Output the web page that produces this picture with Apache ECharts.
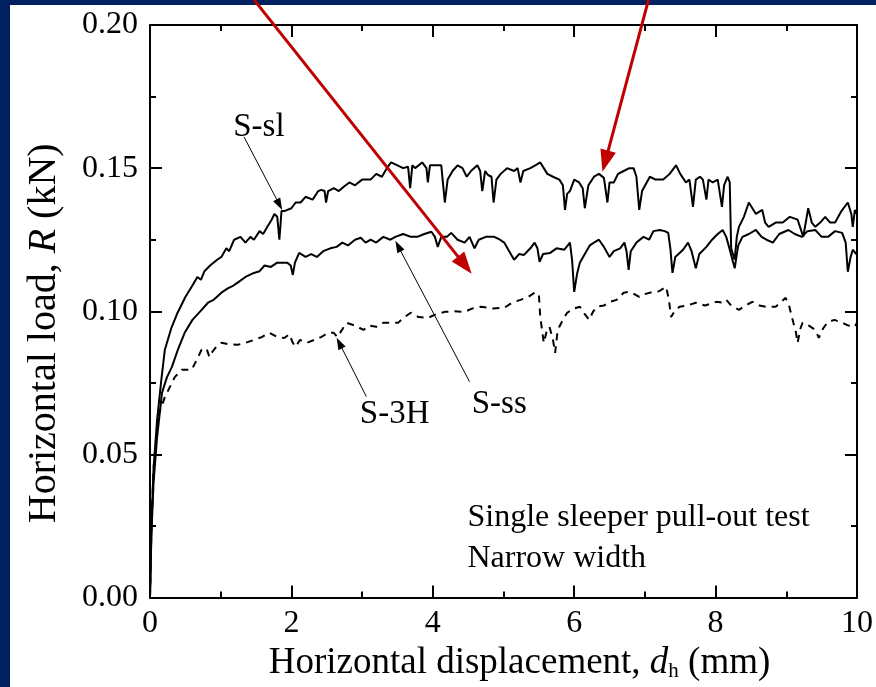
<!DOCTYPE html>
<html><head><meta charset="utf-8">
<script src="https://cdn.jsdelivr.net/npm/echarts@6/dist/echarts.min.js"></script>
<style>html,body{margin:0;padding:0;background:#002060;}#c{width:876px;height:687px;}</style>
</head><body><div id="c"></div>
<script>
// ---- data (x: horizontal displacement mm, y: horizontal load kN) ----
const xTicks = [0, 2, 4, 6, 8, 10];
const yTicks = [0.00, 0.05, 0.10, 0.15, 0.20];

const sSl = [[0,0],[0.02,0.025],[0.05,0.045],[0.1,0.062],[0.16,0.076],[0.21,0.0866],[0.3,0.094],[0.39,0.0995],[0.5,0.105],[0.6,0.109],[0.67,0.112],[0.72,0.111],[0.77,0.114],[0.85,0.116],[0.95,0.118],[1.01,0.119],[1.08,0.122],[1.12,0.121],[1.19,0.125],[1.28,0.126],[1.35,0.124],[1.42,0.126],[1.47,0.125],[1.55,0.128],[1.6,0.127],[1.66,0.1295],[1.72,0.132],[1.76,0.134],[1.8,0.133],[1.83,0.125],[1.86,0.135],[1.9,0.135],[2.0,0.136],[2.06,0.138],[2.13,0.138],[2.2,0.140],[2.3,0.139],[2.38,0.142],[2.42,0.1424],[2.47,0.142],[2.49,0.138],[2.52,0.142],[2.6,0.143],[2.67,0.142],[2.74,0.1435],[2.82,0.145],[2.9,0.144],[3.0,0.146],[3.12,0.146],[3.2,0.148],[3.28,0.147],[3.35,0.150],[3.41,0.152],[3.5,0.151],[3.58,0.150],[3.65,0.1505],[3.68,0.143],[3.71,0.151],[3.75,0.150],[3.85,0.152],[3.91,0.150],[3.93,0.145],[3.96,0.151],[4.05,0.151],[4.12,0.151],[4.17,0.138],[4.21,0.146],[4.28,0.149],[4.35,0.151],[4.42,0.150],[4.48,0.147],[4.54,0.149],[4.63,0.151],[4.67,0.149],[4.7,0.142],[4.74,0.149],[4.78,0.1476],[4.83,0.147],[4.86,0.138],[4.9,0.146],[4.96,0.148],[5.05,0.150],[5.15,0.149],[5.2,0.150],[5.24,0.145],[5.28,0.149],[5.38,0.150],[5.45,0.151],[5.52,0.152],[5.57,0.150],[5.62,0.148],[5.7,0.147],[5.79,0.146],[5.84,0.144],[5.87,0.1354],[5.9,0.141],[5.94,0.142],[6.0,0.146],[6.07,0.145],[6.12,0.143],[6.15,0.136],[6.2,0.144],[6.28,0.147],[6.35,0.148],[6.42,0.1466],[6.47,0.138],[6.5,0.145],[6.56,0.145],[6.62,0.148],[6.7,0.149],[6.78,0.150],[6.84,0.150],[6.88,0.147],[6.92,0.1354],[6.96,0.142],[7.07,0.147],[7.15,0.146],[7.26,0.146],[7.35,0.148],[7.44,0.151],[7.5,0.148],[7.58,0.145],[7.63,0.146],[7.68,0.1365],[7.72,0.146],[7.78,0.147],[7.82,0.146],[7.87,0.139],[7.9,0.146],[7.96,0.145],[8.03,0.146],[8.09,0.1365],[8.12,0.144],[8.17,0.147],[8.2,0.145],[8.22,0.122],[8.27,0.118],[8.3,0.126],[8.33,0.1295],[8.4,0.133],[8.47,0.138],[8.52,0.136],[8.57,0.134],[8.66,0.1354],[8.7,0.131],[8.75,0.1295],[8.85,0.131],[8.95,0.131],[9.05,0.133],[9.16,0.132],[9.2,0.129],[9.24,0.126],[9.31,0.136],[9.36,0.131],[9.41,0.1295],[9.48,0.131],[9.55,0.133],[9.62,0.131],[9.69,0.131],[9.78,0.135],[9.87,0.138],[9.92,0.134],[9.94,0.1295],[9.97,0.1354],[10,0.134]];

const sSs = [[0,0],[0.02,0.022],[0.05,0.04],[0.1,0.056],[0.17,0.0716],[0.24,0.077],[0.31,0.0806],[0.4,0.087],[0.49,0.0925],[0.6,0.097],[0.73,0.1005],[0.82,0.103],[0.9,0.104],[1.01,0.1065],[1.1,0.108],[1.18,0.109],[1.24,0.110],[1.35,0.112],[1.47,0.1134],[1.55,0.114],[1.62,0.116],[1.71,0.1155],[1.8,0.117],[1.94,0.117],[1.99,0.116],[2.02,0.1127],[2.05,0.117],[2.11,0.1204],[2.2,0.119],[2.28,0.120],[2.36,0.119],[2.45,0.121],[2.55,0.122],[2.64,0.1225],[2.72,0.124],[2.8,0.123],[2.9,0.125],[2.98,0.1257],[3.05,0.124],[3.12,0.125],[3.2,0.124],[3.3,0.126],[3.4,0.125],[3.47,0.126],[3.58,0.127],[3.69,0.126],[3.78,0.126],[3.88,0.127],[3.98,0.1278],[4.03,0.126],[4.07,0.1225],[4.12,0.126],[4.2,0.126],[4.26,0.1274],[4.35,0.125],[4.45,0.124],[4.52,0.126],[4.59,0.122],[4.65,0.125],[4.75,0.126],[4.87,0.126],[4.95,0.125],[5.01,0.124],[5.08,0.121],[5.15,0.118],[5.22,0.120],[5.29,0.1197],[5.38,0.122],[5.44,0.124],[5.48,0.122],[5.51,0.1173],[5.56,0.120],[5.66,0.1204],[5.75,0.122],[5.86,0.1215],[5.94,0.124],[5.97,0.118],[6.0,0.1068],[6.04,0.113],[6.08,0.117],[6.15,0.120],[6.22,0.123],[6.28,0.124],[6.35,0.125],[6.42,0.1225],[6.5,0.119],[6.56,0.121],[6.65,0.122],[6.71,0.124],[6.74,0.121],[6.77,0.1145],[6.8,0.121],[6.88,0.124],[6.98,0.126],[7.06,0.125],[7.12,0.128],[7.21,0.1284],[7.28,0.128],[7.33,0.1274],[7.36,0.122],[7.39,0.1134],[7.43,0.119],[7.54,0.1215],[7.61,0.124],[7.66,0.121],[7.72,0.115],[7.77,0.120],[7.87,0.1225],[7.95,0.125],[8.03,0.127],[8.1,0.1284],[8.15,0.126],[8.19,0.1225],[8.27,0.115],[8.32,0.123],[8.38,0.126],[8.47,0.127],[8.57,0.1284],[8.65,0.126],[8.72,0.125],[8.81,0.124],[8.9,0.127],[9.03,0.1284],[9.12,0.127],[9.22,0.126],[9.3,0.128],[9.41,0.1284],[9.5,0.126],[9.59,0.126],[9.69,0.128],[9.79,0.1274],[9.84,0.124],[9.87,0.1138],[9.91,0.119],[9.94,0.1215],[10,0.1197]];

const s3H = [[0,0],[0.02,0.025],[0.05,0.045],[0.11,0.063],[0.21,0.070],[0.35,0.077],[0.45,0.0796],[0.59,0.0796],[0.66,0.083],[0.73,0.0866],[0.8,0.087],[0.84,0.084],[0.87,0.0855],[0.95,0.088],[1.01,0.089],[1.12,0.0885],[1.24,0.0883],[1.35,0.089],[1.47,0.090],[1.58,0.091],[1.69,0.0925],[1.8,0.091],[1.9,0.0907],[1.97,0.092],[2.02,0.089],[2.06,0.0876],[2.12,0.090],[2.22,0.089],[2.32,0.090],[2.42,0.091],[2.52,0.0925],[2.6,0.0925],[2.65,0.091],[2.78,0.096],[2.9,0.095],[3.02,0.0935],[3.1,0.095],[3.2,0.0946],[3.3,0.096],[3.4,0.096],[3.51,0.096],[3.6,0.098],[3.69,0.0995],[3.8,0.098],[3.93,0.0977],[4.05,0.099],[4.17,0.0998],[4.3,0.100],[4.45,0.0998],[4.56,0.101],[4.68,0.1016],[4.85,0.101],[5.01,0.1012],[5.12,0.103],[5.24,0.104],[5.35,0.105],[5.44,0.1065],[5.5,0.106],[5.52,0.098],[5.57,0.089],[5.61,0.093],[5.65,0.0946],[5.7,0.090],[5.73,0.0855],[5.76,0.092],[5.79,0.0946],[5.84,0.097],[5.9,0.0995],[6.0,0.101],[6.08,0.1016],[6.15,0.099],[6.21,0.097],[6.27,0.100],[6.32,0.1016],[6.42,0.102],[6.5,0.1033],[6.6,0.104],[6.7,0.1065],[6.78,0.1068],[6.85,0.106],[6.92,0.105],[7.0,0.106],[7.12,0.1068],[7.2,0.107],[7.3,0.1086],[7.34,0.104],[7.37,0.098],[7.42,0.100],[7.49,0.1016],[7.6,0.102],[7.72,0.103],[7.85,0.102],[8.01,0.1033],[8.1,0.103],[8.15,0.104],[8.22,0.102],[8.33,0.1005],[8.42,0.102],[8.52,0.1033],[8.62,0.102],[8.71,0.1016],[8.85,0.1016],[8.99,0.1047],[9.04,0.102],[9.06,0.0998],[9.1,0.096],[9.13,0.0935],[9.16,0.089],[9.2,0.094],[9.23,0.096],[9.32,0.095],[9.41,0.0935],[9.46,0.0907],[9.52,0.094],[9.59,0.0963],[9.68,0.097],[9.79,0.096],[9.88,0.095],[9.97,0.0946],[10,0.096]];

// annotations in data coordinates
const seriesLabels = [
  {text: 'S-sl', at: [1.54, 0.1644], from: [1.33, 0.1609], to: [1.87, 0.1354]},
  {text: 'S-ss', at: [4.94, 0.0674], from: [4.52, 0.0754], to: [3.47, 0.1246]},
  {text: 'S-3H', at: [3.46, 0.0639], from: [3.06, 0.0702], to: [2.64, 0.0908]}
];
const redArrows = [
  {from: [1.475, 0.2087], to: [4.55, 0.1131]},
  {from: [7.05, 0.2087], to: [6.40, 0.1487]}
];
const noteLines = ['Single sleeper pull-out test', 'Narrow width'];
const notePos = [[4.49, 0.0281], [4.49, 0.0136]];

const FONT = '"Liberation Serif","Times New Roman",serif';
const chart = echarts.init(document.getElementById('c'));

function axisCommon(show) {
  return {
    min: 0,
    axisLine: {show: true, onZero: false, lineStyle: {color: '#000', width: 2}},
    axisTick: {show: true, inside: true, length: 12, lineStyle: {color: '#000', width: 2}},
    minorTick: {show: true, splitNumber: 2, length: 6, lineStyle: {color: '#000', width: 2}},
    splitLine: {show: false},
    axisLabel: {show: show, color: '#000', fontFamily: FONT, fontSize: 32}
  };
}

const option = {
  backgroundColor: '#002060',
  animation: false,
  grid: {left: 150, right: 14, top: 25, bottom: 89, containLabel: false},
  xAxis: [
    Object.assign(axisCommon(true), {
      type: 'value', position: 'bottom', max: 10, interval: 2,
      axisLabel: {show: true, color: '#000', fontFamily: FONT, fontSize: 32, margin: 10,
        formatter: v => xTicks.includes(v) ? String(v) : ''},
      name: '{n|Horizontal displacement, }{i|d}{s|h}{n| (mm)}',
      nameLocation: 'middle', nameGap: 45,
      nameTextStyle: {color: '#000', fontFamily: FONT, fontSize: 37, padding: [0, 0, 0, 32],
        rich: {
          n: {fontFamily: FONT, fontSize: 37, color: '#000'},
          i: {fontFamily: FONT, fontSize: 37, fontStyle: 'italic', color: '#000'},
          s: {fontFamily: FONT, fontSize: 21, color: '#000', verticalAlign: 'bottom', padding: [17, 0, 0, 0]}
        }}
    }),
    Object.assign(axisCommon(false), {type: 'value', position: 'top', max: 10, interval: 2})
  ],
  yAxis: [
    Object.assign(axisCommon(true), {
      type: 'value', position: 'left', max: 0.2, interval: 0.05,
      axisLabel: {show: true, color: '#000', fontFamily: FONT, fontSize: 32, margin: 12,
        formatter: v => v.toFixed(2)},
      name: '{n|Horizontal load, }{i|R}{n| (kN)}',
      nameLocation: 'middle', nameGap: 86, nameRotate: 90,
      nameTextStyle: {color: '#000', fontFamily: FONT, fontSize: 40, padding: [0, 44, 0, 0],
        rich: {
          n: {fontFamily: FONT, fontSize: 40, color: '#000'},
          i: {fontFamily: FONT, fontSize: 40, fontStyle: 'italic', color: '#000'}
        }}
    }),
    Object.assign(axisCommon(false), {type: 'value', position: 'right', max: 0.2, interval: 0.05})
  ],
  graphic: [{id: 'bg', type: 'rect', z: -10, silent: true,
    shape: {x: 10, y: 5, width: 866, height: 682}, style: {fill: '#fff'}}],
  series: [
    {name: 'S-sl', type: 'line', data: sSl, showSymbol: false, symbol: 'none',
      lineStyle: {color: '#000', width: 2}, z: 3},
    {name: 'S-ss', type: 'line', data: sSs, showSymbol: false, symbol: 'none',
      lineStyle: {color: '#000', width: 2}, z: 3},
    {name: 'S-3H', type: 'line', data: s3H, showSymbol: false, symbol: 'none',
      lineStyle: {color: '#000', width: 2, type: [7, 6]}, z: 3}
  ]
};
chart.setOption(option);

function px(p) { return chart.convertToPixel({gridIndex: 0}, p); }
function arrow(id, a, b, color, width, headL, headW, z) {
  const p0 = px(a), p1 = px(b);
  const dx = p1[0] - p0[0], dy = p1[1] - p0[1];
  const len = Math.sqrt(dx * dx + dy * dy);
  const ux = dx / len, uy = dy / len, nx = -uy, ny = ux;
  const bx = p1[0] - ux * headL, by = p1[1] - uy * headL;
  return [
    {id: id + 'l', type: 'line', z: z, silent: true,
      shape: {x1: p0[0], y1: p0[1], x2: bx + ux * 2, y2: by + uy * 2},
      style: {stroke: color, lineWidth: width}},
    {id: id + 'h', type: 'polygon', z: z, silent: true,
      shape: {points: [[p1[0], p1[1]], [bx + nx * headW / 2, by + ny * headW / 2], [bx - nx * headW / 2, by - ny * headW / 2]]},
      style: {fill: color}}
  ];
}
const g = [{id: 'bg', type: 'rect', z: -10, silent: true,
  shape: {x: 10, y: 5, width: 866, height: 682}, style: {fill: '#fff'}}];
seriesLabels.forEach((s, i) => {
  const p = px(s.at);
  g.push({id: 'lab' + i, type: 'text', z: 20, x: p[0], y: p[1], silent: true,
    style: {text: s.text, fill: '#000', font: '33px ' + FONT, textAlign: 'center', textVerticalAlign: 'middle'}});
  arrow('ba' + i, s.from, s.to, '#000', 1, 12, 8, 20).forEach(e => g.push(e));
});
redArrows.forEach((r, i) => {
  arrow('ra' + i, r.from, r.to, '#c00000', 3, 22, 16, 30).forEach(e => g.push(e));
});
noteLines.forEach((t, i) => {
  const p = px(notePos[i]);
  g.push({id: 'note' + i, type: 'text', z: 20, x: p[0], y: p[1], silent: true,
    style: {text: t, fill: '#000', font: '32px ' + FONT, textAlign: 'left', textVerticalAlign: 'middle'}});
});
chart.setOption({graphic: g});
</script></body></html>
